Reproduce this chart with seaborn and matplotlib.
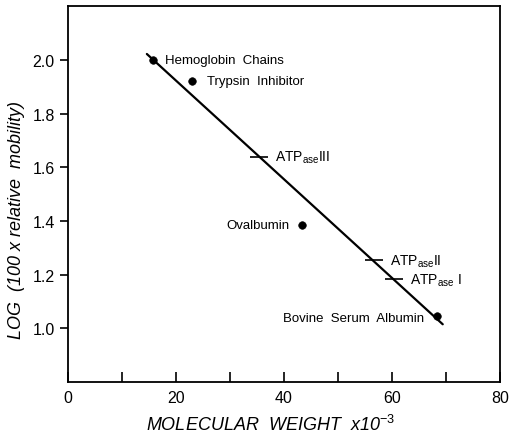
import matplotlib
matplotlib.use("Agg")
import matplotlib.pyplot as plt
import seaborn as sns
import pandas as pd

# point markers (proteins)
dot_names = ["Hemoglobin  Chains", "Trypsin  Inhibitor", "Ovalbumin", "Bovine  Serum  Albumin"]
dot_mw = [15.7, 23.0, 43.3, 68.3]
dot_log = [2.00, 1.92, 1.383, 1.045]

# ATPase bands (horizontal bars)
atp_names = ["ATP$_{\\mathrm{ase}}$III", "ATP$_{\\mathrm{ase}}$II", "ATP$_{\\mathrm{ase}}$ I"]
atp_mw = [35.4, 56.7, 60.4]
atp_log = [1.64, 1.253, 1.182]
atp_err = [1.7, 1.7, 1.7]

# fitted line
fit_mw = [14.6, 69.4]
fit_log = [2.022, 1.015]

sns.set_style("ticks")
plt.rcParams['font.family'] = ['Liberation Sans', 'DejaVu Sans']
plt.rcParams['mathtext.fontset'] = 'custom'
plt.rcParams['mathtext.rm'] = 'Liberation Sans'
plt.rcParams['mathtext.it'] = 'Liberation Sans:italic'
for k in ["text.color", "axes.labelcolor", "xtick.color", "ytick.color", "axes.edgecolor"]:
    plt.rcParams[k] = "black"

fig = plt.figure(figsize=(5.13, 4.39), dpi=100)
ax = fig.add_axes([0.1326, 0.1276, 0.842, 0.856])

df_dots = pd.DataFrame({"mw": dot_mw, "log": dot_log, "name": dot_names})
df_fit = pd.DataFrame({"mw": fit_mw, "log": fit_log})

sns.lineplot(data=df_fit, x="mw", y="log", color="black", lw=1.6, ax=ax)
sns.scatterplot(data=df_dots, x="mw", y="log", color="black", s=30, edgecolor="black", ax=ax, zorder=3)
ax.errorbar(atp_mw, atp_log, xerr=atp_err, fmt="none", ecolor="black", elinewidth=1.2, capsize=0)

# labels
fs = 9.5
ax.text(dot_mw[0] + 2.2, dot_log[0], dot_names[0], fontsize=fs, va="center", ha="left")
ax.text(dot_mw[1] + 2.7, dot_log[1], dot_names[1], fontsize=fs, va="center", ha="left")
ax.text(dot_mw[2] - 2.3, dot_log[2], dot_names[2], fontsize=fs, va="center", ha="right")
ax.text(dot_mw[3] - 2.3, dot_log[3] - 0.005, dot_names[3], fontsize=fs, va="center", ha="right")
ax.text(atp_mw[0] + 3.0, atp_log[0], atp_names[0], fontsize=fs + 0.5, va="center", ha="left")
ax.text(atp_mw[1] + 3.0, atp_log[1], atp_names[1], fontsize=fs + 0.5, va="center", ha="left")
ax.text(atp_mw[2] + 3.0, atp_log[2], atp_names[2], fontsize=fs + 0.5, va="center", ha="left")

ax.set_xlim(0, 80)
ax.set_ylim(0.8, 2.2)
ax.set_xticks([0, 20, 40, 60, 80])
ax.set_xticks([10, 30, 50, 70], minor=True)
ax.set_yticks([1.0, 1.2, 1.4, 1.6, 1.8, 2.0])
ax.set_yticklabels(["1.0", "1.2", "1.4", "1.6", "1.8", "2.0"])
ax.tick_params(axis="x", which="both", direction="in", length=7, width=1.2, labelsize=11.5, pad=6)
ax.tick_params(axis="y", direction="out", length=6, width=1.2, labelsize=11.5)
for s in ax.spines.values():
    s.set_linewidth(1.3)
    s.set_visible(True)

ax.set_xlabel("MOLECULAR  WEIGHT  x10$^{-3}$", fontsize=13, style="italic")
ax.set_ylabel("LOG  (100 x relative  mobility)", fontsize=13, style="italic")
ax.xaxis.set_label_coords(0.468, -0.085)
ax.yaxis.set_label_coords(-0.1, 0.434)

fig.savefig("out.png", dpi=100)
